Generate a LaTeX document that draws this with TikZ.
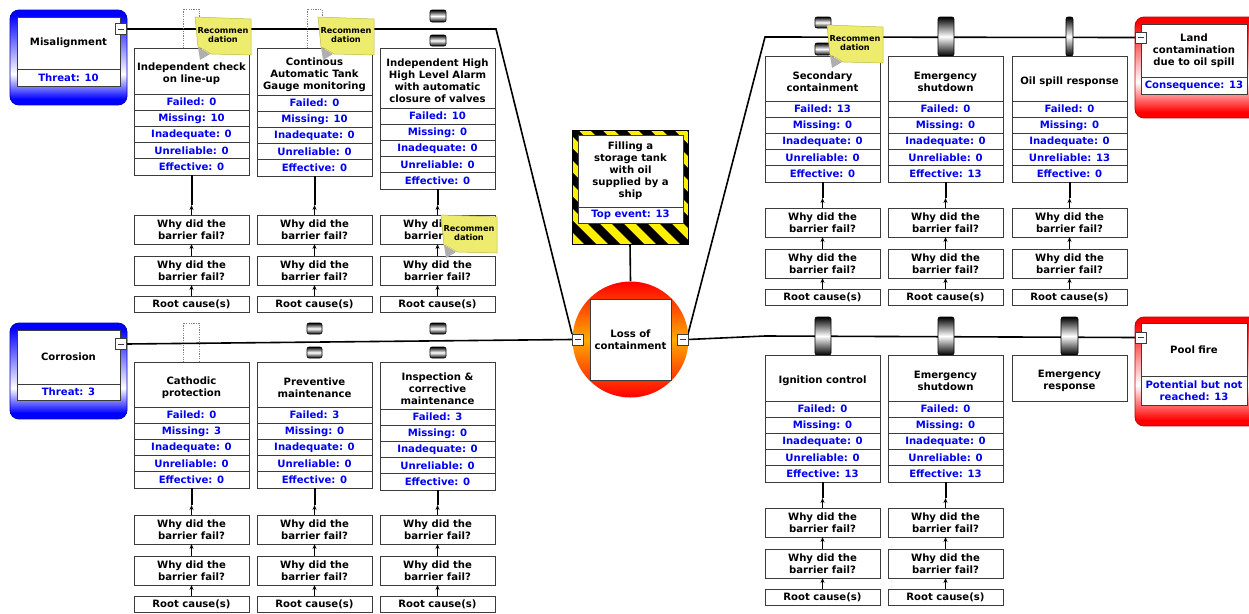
\documentclass[tikz,border=0pt]{standalone}
\usepackage{fontspec}
\setmainfont{DejaVu Sans}
\usetikzlibrary{calc,arrows.meta}
\definecolor{boxgray}{RGB}{60,60,60}
\definecolor{txtblue}{RGB}{0,0,240}
\definecolor{noteyellow}{RGB}{238,236,110}
\definecolor{noteedge}{RGB}{190,186,70}
\definecolor{noteshadow}{RGB}{175,175,175}
\definecolor{tblue}{RGB}{0,0,255}
\definecolor{tred}{RGB}{255,0,0}
\definecolor{torange}{RGB}{255,170,0}
\definecolor{hazyellow}{RGB}{255,240,0}
\pgfdeclarelayer{bg}
\pgfsetlayers{bg,main}
\tikzset{
 base/.style={draw=boxgray, fill=white, line width=0.8pt, align=center, inner sep=1pt, outer sep=0pt, font=\bfseries\fontsize{10.1}{12}\selectfont},
 titlebox/.style={base, minimum width=115pt},
 titletext/.style={align=center, inner sep=0pt, font=\bfseries\fontsize{10.1}{12}\selectfont},
 rowbox/.style={base, minimum width=115pt, minimum height=16.2pt, text=txtblue},
 whybox/.style={base, minimum width=115pt, minimum height=29pt},
 rootbox/.style={base, minimum width=115pt, minimum height=16.5pt},
 valbox/.style={base, text=txtblue},
 minusbox/.style={draw=boxgray, fill=white, line width=0.7pt, minimum size=11pt, inner sep=0pt, outer sep=0pt,
   path picture={\draw[line width=0.8pt] ([xshift=-3pt]path picture bounding box.center) -- ([xshift=3pt]path picture bounding box.center);}},
 mainline/.style={line width=1.6pt, black},
 stem/.style={line width=2pt, black},
 arr/.style={line width=0.8pt, black, -{Stealth[length=5pt,width=4pt]}},
 notetext/.style={font=\bfseries\fontsize{8.2}{9.5}\selectfont, align=center, inner sep=0pt},
 placeholder/.style={draw=gray, dash pattern=on 1.2pt off 1.2pt, line width=0.6pt},
 gauge/.style={draw=black, line width=0.6pt, rounded corners=2pt, top color=black, bottom color=black, middle color=white},
}
\newcommand{\mkbarrier}[5]{%
 \node[titlebox, minimum height=#4pt, anchor=north west] (#1) at (#2,#3) {};
 \node[titletext] (#1txt) at ([yshift=-3pt]#1.center) {#5};}
\newcommand{\mkcounts}[6]{%
 \node[rowbox, anchor=north] (#1f) at (#1.south) {Failed: #2};
 \node[rowbox, anchor=north] (#1m) at (#1f.south) {Missing: #3};
 \node[rowbox, anchor=north] (#1i) at (#1m.south) {Inadequate: #4};
 \node[rowbox, anchor=north] (#1u) at (#1i.south) {Unreliable: #5};
 \node[rowbox, anchor=north] (#1e) at (#1u.south) {Effective: #6};}
\newcommand{\mkwhy}[4]{%
 \node[whybox, anchor=north west] (#1a) at (#2,#3) {Why did the\\barrier fail?};
 \node[whybox, anchor=north west] (#1b) at (#2,#3+41) {Why did the\\barrier fail?};
 \node[rootbox, anchor=north west] (#1r) at (#2,#3+81) {Root cause(s)};
 \coordinate (#1t) at ($(#1a.north)+(0,-10)$);
 \draw[stem] (#4.south) -- (#1t);
 \draw[arr] (#1a.north) -- (#1t);
 \draw[arr] (#1b.north) -- (#1a.south);
 \draw[arr] (#1r.north) -- (#1b.south);}
\newcommand{\recnote}[3]{%
 \begin{scope}[shift={(#2,#3)}]
  \fill[noteshadow] (3,30) -- (15,37) -- (5,43) -- cycle;
  \filldraw[fill=noteyellow, draw=noteedge, line width=0.5pt] (0,0) -- (56,2) -- (56,38) -- (16,37) .. controls (10,33) and (6,31) .. (3,30) -- cycle;
  \node[notetext] (#1) at (28,18) {Recommen\\dation};
 \end{scope}}
\newcommand{\termbg}[6]{%
 \begin{scope}
 \clip[rounded corners=9pt] (#2,#3) rectangle (#4,#5);
 \fill[#1] (#2,#3) rectangle (#4,#5);
 \shade[top color=#1, bottom color=white] (#2,#3+5) rectangle (#4,#6);
 \shade[top color=white, bottom color=#1] (#2,#6) rectangle (#4,#5-6);
 \end{scope}
 \draw[#1!75!black, line width=0.8pt, rounded corners=9pt] (#2,#3) rectangle (#4,#5);}
\begin{document}
\begin{tikzpicture}[x=1pt,y=-1pt]
\useasboundingbox (0,0) rectangle (1249,613);
\clip (0,0) rectangle (1249,613);
\begin{pgfonlayer}{bg}
\fill[white] (0,0) rectangle (1249,613);
\end{pgfonlayer}

% ---------- threats ----------
\termbg{tblue}{10}{10}{127}{105}{74}
\node[base, minimum width=103pt, minimum height=52pt, anchor=north west] (mis) at (17,17) {Misalignment};
\node[valbox, minimum width=103pt, minimum height=17pt, anchor=north west] (misv) at (17,69) {Threat: 10};
\node[minusbox] (misM) at (121,29) {};

\termbg{tblue}{10}{323}{127}{419}{388}
\node[base, minimum width=103pt, minimum height=54pt, anchor=north west] (cor) at (17,330) {Corrosion};
\node[valbox, minimum width=103pt, minimum height=16pt, anchor=north west] (corv) at (17,384) {Threat: 3};
\node[minusbox] (corM) at (121,344) {};

% ---------- consequences ----------
\termbg{tred}{1135}{17}{1258}{118}{82}
\node[base, minimum width=106pt, minimum height=53pt, anchor=north west] (land) at (1141,24) {Land\\contamination\\due to oil spill};
\node[valbox, minimum width=106pt, minimum height=17pt, anchor=north west] (landv) at (1141,77) {Consequence: 13};
\node[minusbox] (landM) at (1140.5,37.5) {};

\termbg{tred}{1135}{317}{1258}{426}{385}
\node[base, minimum width=106pt, minimum height=53pt, anchor=north west] (pool) at (1141,323) {Pool fire};
\node[valbox, minimum width=106pt, minimum height=29pt, anchor=north west] (poolv) at (1141,376) {Potential but not\\reached: 13};
\node[minusbox] (poolM) at (1140.5,337.5) {};

% ---------- top event ----------
\fill[hazyellow] (572,130) rectangle (688,244);
\begin{scope}
\clip (572,130) rectangle (688,244);
\foreach \i in {0,...,11} {\fill[black] (446+\i*24,130) -- ++(12,0) -- ++(114,114) -- ++(-12,0) -- cycle;}
\end{scope}
\node[draw=black, line width=0.8pt, minimum width=116pt, minimum height=114pt, anchor=north west, inner sep=0pt, outer sep=0pt] (te) at (572,130) {};
\node[base, minimum width=105pt, minimum height=72pt, anchor=north west] (tet) at (578,135) {Filling a\\storage tank\\with oil\\supplied by a\\ship};
\node[valbox, minimum width=105pt, minimum height=16pt, anchor=north west] (tev) at (578,207) {Top event: 13};

% ---------- loss of containment ----------
\node[circle, minimum size=116pt, inner sep=0pt, top color=tred, bottom color=tred, middle color=torange] (loc) at (630.5,339.5) {};
\node[base, minimum width=81pt, minimum height=81pt] (locb) at (630.5,339.5) {Loss of\\containment};
\node[minusbox] (locL) at (577.5,339.5) {};
\node[minusbox] (locR) at (682.5,339.5) {};

% ---------- barrier markers ----------
\draw[placeholder] (183,9) rectangle (199,48);
\draw[placeholder] (307,9) rectangle (322,48);
\draw[placeholder] (183,323) rectangle (199,362);
\path[gauge] (430,10) rectangle (446,22);
\path[gauge] (430,35) rectangle (446,46);
\path[gauge] (307,323) rectangle (322,334);
\path[gauge] (307,347) rectangle (322,358);
\path[gauge] (430,323) rectangle (446,334);
\path[gauge] (430,347) rectangle (446,358);
\path[gauge] (815,17) rectangle (831,28);
\path[gauge] (815,43) rectangle (831,55);
\path[gauge] (938,17) rectangle (954,56);
\path[gauge] (1066,17) rectangle (1073,56);
\path[gauge] (815,317) rectangle (831,355);
\path[gauge] (938,317) rectangle (954,355);
\path[gauge] (1061,317) rectangle (1078,355);

% ---------- left top barriers ----------
\mkbarrier{A1}{134}{48}{46}{Independent check\\on line-up}
\mkcounts{A1}{0}{10}{0}{0}{0}
\mkbarrier{A2}{257}{48}{47}{Continous\\Automatic Tank\\Gauge monitoring}
\mkcounts{A2}{0}{10}{0}{0}{0}
\mkbarrier{A3}{380}{48}{60}{Independent High\\High Level Alarm\\with automatic\\closure of valves}
\mkcounts{A3}{10}{0}{0}{0}{0}
\mkwhy{WA1}{134}{215}{A1e}
\mkwhy{WA2}{257}{215}{A2e}
\mkwhy{WA3}{380}{215}{A3e}

% ---------- left bottom barriers ----------
\mkbarrier{B1}{134}{362}{45}{Cathodic\\protection}
\mkcounts{B1}{0}{3}{0}{0}{0}
\mkbarrier{B2}{257}{362}{45}{Preventive\\maintenance}
\mkcounts{B2}{3}{0}{0}{0}{0}
\mkbarrier{B3}{380}{362}{47}{Inspection \&\\corrective\\maintenance}
\mkcounts{B3}{3}{0}{0}{0}{0}
\mkwhy{WB1}{134}{515}{B1e}
\mkwhy{WB2}{257}{515}{B2e}
\mkwhy{WB3}{380}{515}{B3e}

% ---------- right top barriers ----------
\mkbarrier{C1}{765}{56}{45}{Secondary\\containment}
\mkcounts{C1}{13}{0}{0}{0}{0}
\mkbarrier{C2}{888}{56}{45}{Emergency\\shutdown}
\mkcounts{C2}{0}{0}{0}{0}{13}
\mkbarrier{C3}{1012}{56}{45}{Oil spill response}
\mkcounts{C3}{0}{0}{0}{13}{0}
\mkwhy{WC1}{765}{208}{C1e}
\mkwhy{WC2}{888}{208}{C2e}
\mkwhy{WC3}{1012}{208}{C3e}

% ---------- right bottom barriers ----------
\mkbarrier{D1}{765}{355}{46}{Ignition control}
\mkcounts{D1}{0}{0}{0}{0}{13}
\mkbarrier{D2}{888}{355}{46}{Emergency\\shutdown}
\mkcounts{D2}{0}{0}{0}{0}{13}
\mkbarrier{D3}{1012}{355}{46}{Emergency\\response}
\mkwhy{WD1}{765}{508}{D1e}
\mkwhy{WD2}{888}{508}{D2e}

% ---------- recommendation notes ----------
\recnote{N1}{195}{17}
\recnote{N2}{318}{17}
\recnote{N3}{827}{25}
\recnote{N4}{441}{215}

% ---------- main connectors ----------
\coordinate (bendA) at (496,29);
\coordinate (bendC) at (765,37);
\coordinate (bendD) at (765,336);
\begin{pgfonlayer}{bg}
\draw[mainline] (misM.east) -- (bendA) -- (locL.north west);
\draw[mainline] (corM.east) -- (locL.west);
\draw[mainline] (locR.north east) -- (bendC) -- (landM.west);
\draw[mainline] (locR.east) -- (bendD) -- (poolM.west);
\draw[mainline] (te.south) -- (loc.north);
\end{pgfonlayer}
\end{tikzpicture}
\end{document}
